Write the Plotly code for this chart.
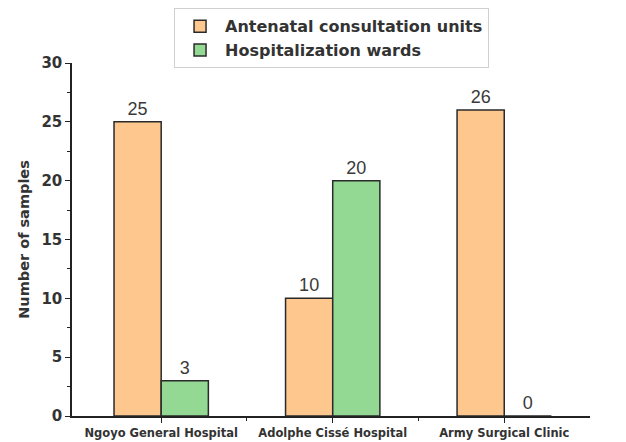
import plotly.graph_objects as go

categories = ["Ngoyo General Hospital", "Adolphe Cissé Hospital", "Army Surgical Clinic"]
antenatal = [25, 10, 26]
hospitalization = [3, 20, 0]
series_names = ["Antenatal consultation units", "Hospitalization wards"]
y_ticks = [0, 5, 10, 15, 20, 25, 30]

xpos = list(range(len(categories)))
bold_font = "DejaVu Sans, Verdana, sans-serif"
label_font = "Liberation Sans, Arial, sans-serif"

fig = go.Figure()
fig.add_trace(go.Bar(
    x=xpos, y=antenatal, name=series_names[0],
    marker=dict(color="#FDC78E", line=dict(color="#2a2a2a", width=1.5)),
    text=[str(v) for v in antenatal], textposition="outside",
    textfont=dict(size=18, color="#3a3a3a", family=label_font), cliponaxis=False,
))
fig.add_trace(go.Bar(
    x=xpos, y=hospitalization, name=series_names[1],
    marker=dict(color="#93D993", line=dict(color="#2a2a2a", width=1.5)),
    text=[str(v) for v in hospitalization], textposition="outside",
    textfont=dict(size=18, color="#3a3a3a", family=label_font), cliponaxis=False,
))

fig.update_layout(
    width=618, height=434,
    margin=dict(l=64, r=36, t=55, b=26, autoexpand=False),
    paper_bgcolor="white", plot_bgcolor="white",
    barmode="group", bargap=0.45, bargroupgap=0,
    font=dict(family=bold_font, color="#333"),
    showlegend=True,
    legend=dict(
        x=0.197, y=1.155, xanchor="left", yanchor="top",
        bgcolor="white", bordercolor="#d0d0d0", borderwidth=1,
        font=dict(size=16, color="#333", family=bold_font, weight="bold"),
        tracegroupgap=0, itemwidth=40,
    ),
    xaxis=dict(
        range=[-0.52, 2.5], tickmode="array", tickvals=xpos, ticktext=categories,
        showline=True, linecolor="#222", linewidth=1.5,
        ticks="outside", ticklen=5, tickcolor="#222",
        tickfont=dict(size=11.5, color="#333", family=bold_font, weight="bold"),
        minor=dict(tickmode="array", tickvals=[0.5, 1.5], ticks="outside", ticklen=3, tickcolor="#222"),
        showgrid=False, zeroline=False,
    ),
    yaxis=dict(
        range=[0, 30], tickmode="array", tickvals=y_ticks,
        showline=True, linecolor="#222", linewidth=1.5,
        ticks="outside", ticklen=5, tickcolor="#222",
        tickfont=dict(size=15, color="#333", family=bold_font, weight="bold"),
        minor=dict(dtick=2.5, ticks="outside", ticklen=3, tickcolor="#222", showgrid=False),
        showgrid=False, zeroline=False,
        title=dict(text="Number of samples", font=dict(size=14.5, color="#333", family=bold_font, weight="bold"), standoff=8),
    ),
)

fig.write_html("out.html")
